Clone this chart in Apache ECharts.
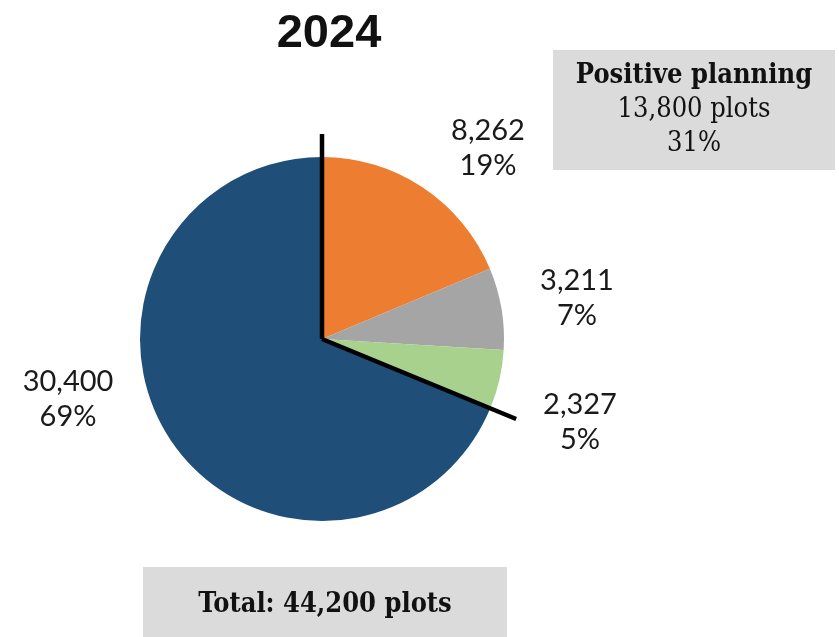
<!DOCTYPE html>
<html>
<head>
<meta charset="utf-8">
<script src="https://cdn.jsdelivr.net/npm/echarts@6/dist/echarts.min.js"></script>
<style>
  html, body { margin: 0; padding: 0; background: #fff; }
  #chart { width: 839px; height: 637px; }
</style>
</head>
<body>
<div id="chart"></div>
<script>
// Plot counts by planning route, 2024
const titleText = '2024';
const categories = ['Orange', 'Grey', 'Green', 'Blue'];
const values = [8262, 3211, 2327, 30400];
const colors = ['#ED7D31', '#A5A5A5', '#A9D18E', '#1F4E79'];
// The first three slices make up positive planning
const positiveCount = 3;

const labelFont = 'Lato, "Open Sans", sans-serif';
const boxFont = '"DejaVu Serif Condensed", "DejaVu Serif", serif';

const total = values.reduce((a, b) => a + b, 0);
const positive = values.slice(0, positiveCount).reduce((a, b) => a + b, 0);
const fmt = n => n.toLocaleString('en-US');
const pct = n => Math.round(n / total * 100) + '%';

const cx = 322, cy = 339, R = 182;
const startAngle = 90;

// Label centre positions per slice
const labelPos = [[488, 148], [577, 298], [580, 422], [68, 399]];

function rayEnd(frac, len) {
  const a = (startAngle - frac * 360) * Math.PI / 180;
  return [cx + len * Math.cos(a), cy - len * Math.sin(a)];
}

const chart = echarts.init(document.getElementById('chart'), null, { renderer: 'canvas' });
const startEnd = rayEnd(0, 205);
const splitEnd = rayEnd(positive / total, 210);

chart.setOption({
  animation: false,
  title: {
    text: titleText,
    left: 324, top: 6, textAlign: 'center',
    textStyle: { fontFamily: '"Liberation Sans", Arial, sans-serif', fontWeight: 'bold', fontSize: 47, color: '#111' }
  },
  series: [{
    type: 'pie',
    center: [cx, cy],
    radius: R,
    startAngle: startAngle,
    clockwise: true,
    data: categories.map((c, i) => ({ name: c, value: values[i], itemStyle: { color: colors[i] } })),
    label: {
      show: true,
      position: 'outside',
      formatter: p => fmt(p.value) + '\n' + pct(p.value),
      fontFamily: labelFont,
      fontSize: 29,
      lineHeight: 35,
      color: '#1a1a1a',
      align: 'center'
    },
    labelLine: { show: false },
    labelLayout: p => ({
      x: labelPos[p.dataIndex][0],
      y: labelPos[p.dataIndex][1],
      align: 'center',
      verticalAlign: 'middle'
    }),
    emphasis: { disabled: true }
  }],
  graphic: [
    { type: 'line', z: 100, shape: { x1: cx, y1: cy, x2: startEnd[0], y2: startEnd[1] },
      style: { stroke: '#000', lineWidth: 4.5 } },
    { type: 'line', z: 100, shape: { x1: cx, y1: cy, x2: splitEnd[0], y2: splitEnd[1] },
      style: { stroke: '#000', lineWidth: 4.5 } },
    { type: 'rect', shape: { x: 553, y: 50, width: 282, height: 120 }, style: { fill: '#DBDBDB' } },
    { type: 'text', x: 694, y: 76, style: {
        text: 'Positive planning', fontFamily: boxFont, fontWeight: 'bold', fontSize: 27,
        fill: '#111', align: 'center', verticalAlign: 'middle' } },
    { type: 'text', x: 694, y: 110, style: {
        text: fmt(positive) + ' plots', fontFamily: boxFont, fontSize: 27,
        fill: '#111', align: 'center', verticalAlign: 'middle' } },
    { type: 'text', x: 694, y: 144, style: {
        text: pct(positive), fontFamily: boxFont, fontSize: 27,
        fill: '#111', align: 'center', verticalAlign: 'middle' } },
    { type: 'rect', shape: { x: 143, y: 567, width: 364, height: 70 }, style: { fill: '#DBDBDB' } },
    { type: 'text', x: 325, y: 605, style: {
        text: 'Total: ' + fmt(total) + ' plots', fontFamily: boxFont, fontWeight: 'bold', fontSize: 27,
        fill: '#111', align: 'center', verticalAlign: 'middle' } }
  ]
});
</script>
</body>
</html>
